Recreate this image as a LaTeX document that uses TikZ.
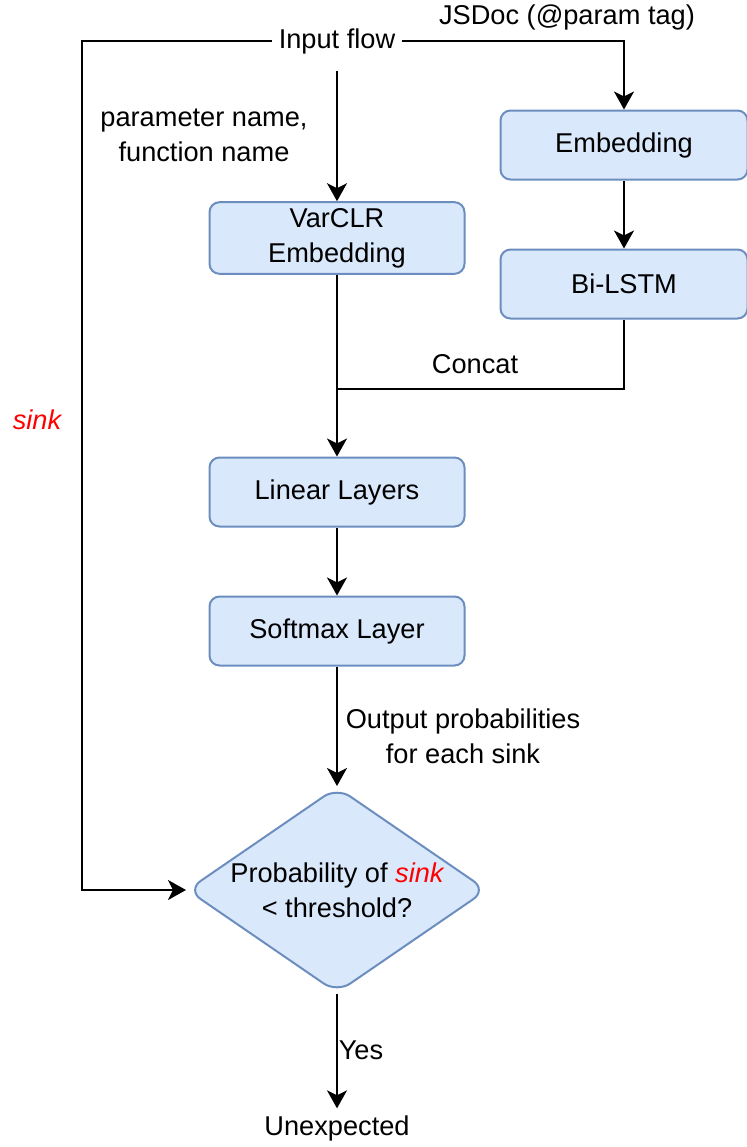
\documentclass[tikz,border=0pt]{standalone}
\usepackage{fontspec}
\setmainfont{Liberation Sans}
\usetikzlibrary{arrows.meta,shapes.geometric}

\definecolor{boxfill}{HTML}{DAE8FC}
\definecolor{boxline}{HTML}{6C8EBF}

\begin{document}
\begin{tikzpicture}[x=0.5pt,y=-0.5pt,line width=1pt,>={Stealth[length=9pt,width=10pt,inset=2.5pt]}]
\tikzstyle{every node}=[font=\fontsize{13.6}{17.5}\selectfont, inner sep=3pt, align=center]
\tikzstyle{layer}=[draw=boxline, fill=boxfill, rounded corners=5pt, minimum width=127.5pt, minimum height=34.5pt]
\tikzstyle{sinkword}=[text=red, font=\fontsize{13.6}{17.5}\selectfont\itshape]
\useasboundingbox (0,0) rectangle (747,1147);
\node (input) at (337,41) {Input flow};
\node (jsdoc) at (567,17) {JSDoc (@param tag)};
\node (names) at (204,135) {parameter name,\\function name};
\node (emb) [layer, minimum width=123.5pt] at (624,145) {Embedding};
\node (bilstm) [layer, minimum width=123.5pt] at (624,284) {Bi-LSTM};
\node (varclr) [layer] at (337,238) {VarCLR\\Embedding};
\node (concat) at (475,364) {Concat};
\node (linear) [layer] at (337,492) {Linear Layers};
\node (softmax) [layer] at (337,631) {Softmax Layer};
\node (outprob) at (463,736) {Output probabilities\\for each sink};
\node (check) [diamond, draw=boxline, fill=boxfill, rounded corners=8pt, inner sep=0pt, minimum width=150pt, minimum height=103pt] at (337,890) {};
\node (checktxt) at (check.center) {Probability of {\color{red}\itshape sink}\\\textless{} threshold?};
\node (sink) [sinkword] at (37,420) {sink};
\node (yes) at (361,1050) {Yes};
\node (unexp) at (337,1128) {Unexpected};
\coordinate (lefttop) at (82,41);
\coordinate (leftbot) at (82,890);
\coordinate (join) at (337,389);
\draw[->] (input.west) -- (lefttop) -- (leftbot) -- (check.west);
\draw[->] (input.east) -| (emb.north);
\draw[->,shorten <=5pt] (input.south) -- (varclr.north);
\draw[->] (emb) -- (bilstm);
\draw (bilstm.south) |- (join);
\draw[->] (varclr) -- (linear);
\draw[->] (linear) -- (softmax);
\draw[->] (softmax) -- (check.north);
\draw[->] (check.south) -- (unexp.north);
\end{tikzpicture}
\end{document}
